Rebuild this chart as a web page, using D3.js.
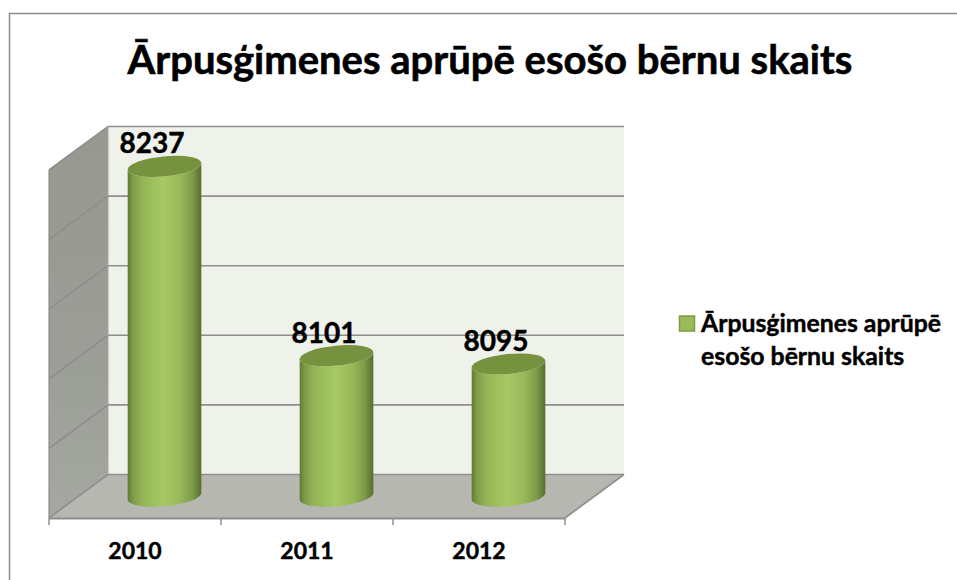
<!DOCTYPE html>
<html><head><meta charset="utf-8">
<script src="https://cdn.jsdelivr.net/npm/d3@7"></script>
<style>html,body{margin:0;padding:0;background:#fff}svg{display:block}text{font-family:Lato,"Open Sans",sans-serif;font-weight:700;fill:#000;stroke:#000;stroke-width:.45px}</style>
</head><body><svg id="c" width="957" height="580"></svg>
<script>
const categories = ["2010","2011","2012"];
const values = [8237,8101,8095];
const seriesName = ["Ārpusģimenes aprūpē","esošo bērnu skaits"];
const chartTitle = "Ārpusģimenes aprūpē esošo bērnu skaits";
const yTicks = [8000,8050,8100,8150,8200,8250];

const svg = d3.select("#c");
const W=957,H=580;
const front={l:49,r:565,t:170,b:518};
const dx=59,dy=-43.5;
const x=d3.scaleBand().domain(categories).range([front.l,front.r]);
const y=d3.scaleLinear().domain([8000,8250]).range([front.b,front.t]);
const rx=37,ry=10,rot=-5.5;

const defs=svg.append("defs");
const g1=defs.append("linearGradient").attr("id","cyl");
[[0,"#5f7a35"],[0.07,"#7e9b48"],[0.2,"#93b556"],[0.48,"#a7c963"],[0.72,"#97b858"],[0.88,"#7c9a48"],[1,"#566f2e"]]
 .forEach(s=>g1.append("stop").attr("offset",s[0]).attr("stop-color",s[1]));
const g2=defs.append("linearGradient").attr("id","side").attr("x1",0).attr("x2",0).attr("y1",0).attr("y2",1);
[[0,"#97998f"],[0.6,"#9b9d97"],[1,"#a5a7a1"]].forEach(s=>g2.append("stop").attr("offset",s[0]).attr("stop-color",s[1]));

svg.append("rect").attr("x",9.5).attr("y",13.5).attr("width",W+20).attr("height",H+20).attr("fill","#fff").attr("stroke","#8c8c8c").attr("stroke-width",1.5);

svg.append("text").attr("x",490).attr("y",74).attr("text-anchor","middle").attr("font-size",40).style("stroke-width","0.6px").text(chartTitle);

const poly=p=>p.map(q=>q.join(",")).join(" ");
svg.append("polygon").attr("points",poly([[front.l+dx,front.t+dy],[front.r+dx,front.t+dy],[front.r+dx,front.b+dy],[front.l+dx,front.b+dy]])).attr("fill","#eff2eb");
svg.append("polygon").attr("points",poly([[front.l,front.t],[front.l+dx,front.t+dy],[front.l+dx,front.b+dy],[front.l,front.b]])).attr("fill","url(#side)");
svg.append("polygon").attr("points",poly([[front.l,front.b],[front.l+dx,front.b+dy],[front.r+dx,front.b+dy],[front.r,front.b]])).attr("fill","#b5b7b0");

const grid=svg.append("g").attr("fill","none").attr("stroke","#8e8e8e");
yTicks.forEach(t=>{
  const yy=y(t);
  grid.append("polyline").attr("stroke-width",1.6)
    .attr("points",poly([[front.l,yy],[front.l+dx,yy+dy],[front.r+dx,yy+dy]]));
});
grid.append("line").attr("x1",front.l).attr("x2",front.l).attr("y1",front.t).attr("y2",front.b).attr("stroke-width",1.2);
grid.append("line").attr("x1",front.l+dx).attr("x2",front.l+dx).attr("y1",front.t+dy).attr("y2",front.b+dy).attr("stroke","#a4a69f").attr("stroke-width",1);
grid.append("line").attr("x1",front.r).attr("y1",front.b).attr("x2",front.r+dx).attr("y2",front.b+dy).attr("stroke-width",1.6);

const axisG=svg.append("g").attr("transform",`translate(0,${front.b})`).call(d3.axisBottom(x).tickSize(0).tickPadding(25));
axisG.select(".domain").attr("stroke","#8e8e8e").attr("stroke-width",2);
axisG.selectAll("text").attr("font-size",23).attr("font-family",null);
[front.l,...categories.map(c=>x(c)+x.bandwidth())].forEach(px=>{
  axisG.append("line").attr("x1",px).attr("x2",px).attr("y1",0).attr("y2",7).attr("stroke","#8e8e8e").attr("stroke-width",1.5);
});

const cos=Math.cos(rot*Math.PI/180),sin=Math.sin(rot*Math.PI/180);
categories.forEach((c,i)=>{
  const cx=x(c)+x.bandwidth()/2+dx/2;
  const top=y(values[i])+dy/2, base=y(8000)+dy/2;
  const lx=cx-rx*cos, ly=-rx*sin, rxp=cx+rx*cos, ry2=rx*sin;
  svg.append("path").attr("fill","url(#cyl)")
    .attr("d",`M${lx},${top+ly} L${lx},${base+ly} A${rx},${ry} ${rot} 0 0 ${rxp},${base+ry2} L${rxp},${top+ry2} A${rx},${ry} ${rot} 0 1 ${lx},${top+ly} Z`);
  svg.append("ellipse").attr("rx",rx).attr("ry",ry).attr("fill","#76923f")
    .attr("transform",`translate(${cx},${top}) rotate(${rot})`);
  svg.append("text").attr("x",cx-12.5).attr("y",top-13).attr("text-anchor","middle").attr("font-size",28).text(values[i]);
});

svg.append("rect").attr("x",679.5).attr("y",316).attr("width",15).attr("height",15).attr("fill","#9bbb59").attr("stroke","#7a9a45").attr("stroke-width",1.5);
const leg=svg.append("text").attr("font-size",24.8);
seriesName.forEach((s,i)=>leg.append("tspan").attr("x",701).attr("y",331.5+i*33).text(s));
</script></body></html>
